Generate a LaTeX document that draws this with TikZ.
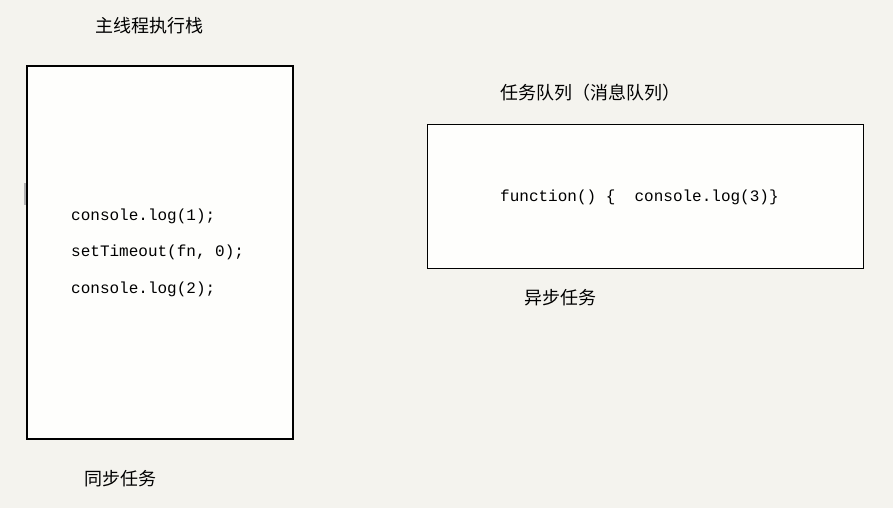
\documentclass[tikz,border=0pt]{standalone}
\usepackage{fontspec}
\setmonofont{Liberation Mono}
\newfontfamily\cjk{Noto Sans CJK SC}
\definecolor{bgc}{HTML}{F4F3EE}
\definecolor{boxc}{HTML}{FEFEFC}
\tikzset{
  cjklabel/.style={anchor=west, inner sep=0pt, font=\cjk\fontsize{18pt}{18pt}\selectfont},
  codeline/.style={anchor=base west, inner sep=0pt, font=\ttfamily\fontsize{16pt}{16pt}\selectfont},
  stackbox/.style={draw=black, line width=1.6pt, fill=boxc},
  queuebox/.style={draw=black, line width=0.9pt, fill=boxc}
}
\begin{document}
\begin{tikzpicture}[x=1pt, y=-1pt]
\fill[bgc] (0,0) rectangle (893,508);
\useasboundingbox (0,0) rectangle (893,508);
% main stack
\filldraw[stackbox] (27,66) rectangle (293,439);
\draw[gray!60, line width=2pt] (25,183) -- (25,205);
\node[cjklabel] (title1) at (95,26) {主线程执行栈};
\node[codeline] (l1) at (71,220) {console.log(1);};
\node[codeline] (l2) at (71,256) {setTimeout(fn,~0);};
\node[codeline] (l3) at (71,293) {console.log(2);};
\node[cjklabel] (sync) at (84,479) {同步任务};
% task queue
\filldraw[queuebox] (427,124) rectangle (863,268);
\node[cjklabel] (title2) at (500,93) {任务队列（消息队列）};
\node[codeline] (fn) at (500,201) {function()~\{~~console.log(3)\}};
\node[cjklabel] (async) at (524,298) {异步任务};
\end{tikzpicture}
\end{document}
